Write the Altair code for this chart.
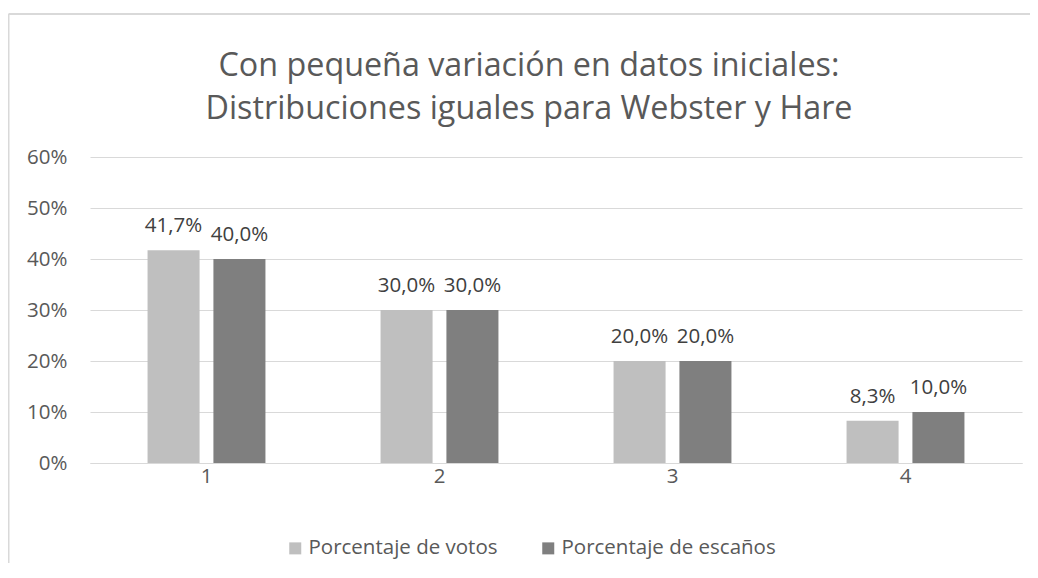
import altair as alt
import pandas as pd

categorias = ["1", "2", "3", "4"]
votos = [0.417, 0.300, 0.200, 0.083]
escanos = [0.400, 0.300, 0.200, 0.100]
series = ["Porcentaje de votos", "Porcentaje de escaños"]
colores = ["#BFBFBF", "#7F7F7F"]
titulo = ["Con pequeña variación en datos iniciales:", "Distribuciones iguales para Webster y Hare"]

rows = []
for c, v, e in zip(categorias, votos, escanos):
    for s, val in zip(series, [v, e]):
        rows.append({"cat": c, "serie": s, "valor": val,
                     "etiqueta": f"{val*100:.1f}%".replace(".", ",")})
df = pd.DataFrame(rows)

FONT = "Open Sans"
GREY = "#595959"
FS = 20.5

base = alt.Chart(df).encode(
    x=alt.X("cat:N", sort=categorias,
            scale=alt.Scale(paddingInner=0.494, paddingOuter=0.247),
            axis=alt.Axis(title=None, labelAngle=0, ticks=False, domain=True,
                          domainColor="#D9D9D9", labelFontSize=FS, labelColor=GREY,
                          labelFont=FONT, labelPadding=3, grid=False)),
    xOffset=alt.XOffset("serie:N", sort=series,
                        scale=alt.Scale(paddingInner=0.21, paddingOuter=0)),
)

bars = base.mark_bar().encode(
    y=alt.Y("valor:Q", scale=alt.Scale(domain=[0, 0.6], nice=False),
            axis=alt.Axis(title=None, format=".0%", values=[0, 0.1, 0.2, 0.3, 0.4, 0.5, 0.6],
                          ticks=False, domain=False, gridColor="#D9D9D9", gridWidth=1,
                          labelFontSize=FS, labelColor=GREY, labelFont=FONT, labelPadding=23)),
    color=alt.Color("serie:N", sort=series,
                    scale=alt.Scale(domain=series, range=colores),
                    legend=alt.Legend(title=None, orient="none", legendX=195, legendY=381,
                                      direction="horizontal", symbolType="square",
                                      symbolSize=144, symbolStrokeWidth=0,
                                      labelFontSize=FS, labelColor=GREY, labelFont=FONT,
                                      labelOffset=3, labelLimit=400, columnPadding=40,
                                      padding=0)),
)

labels = base.mark_text(baseline="middle", dy=-24, fontSize=FS, font=FONT, color="#404040").encode(
    y=alt.Y("valor:Q"),
    text="etiqueta:N",
)

uno = pd.DataFrame({"a": [0]})
borde_sup = alt.Chart(uno).mark_rule(color="#D9D9D9", strokeWidth=2).encode(
    x=alt.value(-81.5), x2=alt.value(960), y=alt.value(-143))
borde_izq = alt.Chart(uno).mark_rule(color="#D9D9D9", strokeWidth=2).encode(
    x=alt.value(-81.5), y=alt.value(-143), y2=alt.value(420))

chart = alt.layer(borde_sup, borde_izq, bars, labels).properties(
    width=932, height=306,
    title=alt.TitleParams(text=titulo, fontSize=32.3, font=FONT, fontWeight="normal",
                          color=GREY, anchor="middle", dx=-27, offset=-112, lineHeight=43),
    autosize=alt.AutoSizeParams(type="none"),
    padding={"left": 82, "top": 149, "right": 8, "bottom": 100},
).configure_view(stroke=None)

chart.save("out.html", embed_options={"renderer": "svg", "actions": False})
